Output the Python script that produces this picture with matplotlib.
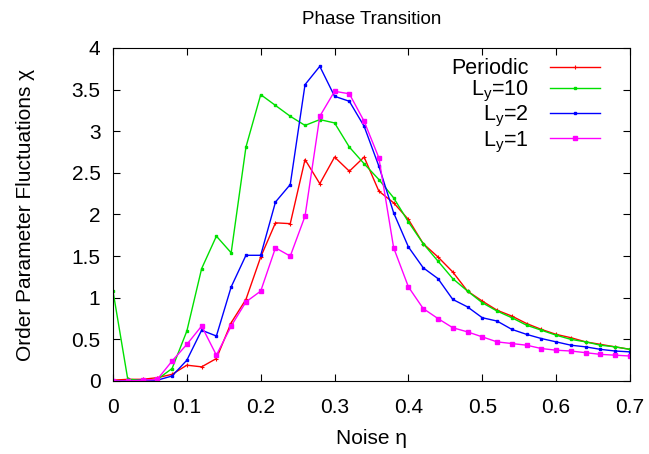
import numpy as np
import matplotlib
matplotlib.use('Agg')
import matplotlib.pyplot as plt

plt.rcParams['font.family'] = ['Liberation Sans', 'DejaVu Sans']
plt.rcParams['mathtext.fontset'] = 'custom'
plt.rcParams['mathtext.rm'] = 'Liberation Sans'
plt.rcParams['mathtext.it'] = 'Liberation Sans'

# noise values, step 0.02 from 0 to 0.7
eta = np.round(np.arange(0, 0.7001, 0.02), 2)

periodic = [0.01, 0.02, 0.02, 0.04, 0.08, 0.19, 0.17, 0.27, 0.70, 0.98,
            1.49, 1.90, 1.89, 2.66, 2.37, 2.69, 2.52, 2.69, 2.28, 2.14,
            1.94, 1.65, 1.49, 1.31, 1.08, 0.96, 0.85, 0.78, 0.69, 0.62,
            0.56, 0.52, 0.47, 0.44, 0.41, 0.38]
ly10 = [1.08, 0.02, 0.01, 0.02, 0.15, 0.60, 1.35, 1.74, 1.54, 2.81,
        3.44, 3.31, 3.18, 3.07, 3.14, 3.10, 2.81, 2.61, 2.42, 2.20,
        1.91, 1.65, 1.44, 1.23, 1.08, 0.94, 0.84, 0.76, 0.67, 0.61,
        0.55, 0.50, 0.47, 0.43, 0.41, 0.38]
ly2 = [0.00, 0.00, 0.01, 0.01, 0.06, 0.25, 0.61, 0.54, 1.13, 1.51,
       1.51, 2.15, 2.36, 3.56, 3.78, 3.42, 3.36, 3.06, 2.58, 2.02,
       1.61, 1.36, 1.23, 0.98, 0.89, 0.76, 0.72, 0.62, 0.56, 0.51,
       0.47, 0.43, 0.41, 0.38, 0.36, 0.35]
ly1 = [0.00, 0.00, 0.01, 0.02, 0.24, 0.44, 0.66, 0.31, 0.66, 0.95,
       1.08, 1.60, 1.50, 1.98, 3.18, 3.48, 3.45, 3.12, 2.68, 1.60,
       1.13, 0.87, 0.75, 0.64, 0.59, 0.53, 0.47, 0.45, 0.43, 0.39,
       0.37, 0.36, 0.34, 0.32, 0.31, 0.30]

fig = plt.figure(figsize=(6.49, 4.54), dpi=100)
ax = fig.add_axes([113/649, 1 - 381/454, (630-113)/649, (381-48)/454])

ax.plot(eta, periodic, color='#ff0000', lw=1, marker='+', ms=2.5, mew=0.8, label='Periodic')
ax.plot(eta, ly10, color='#00e000', lw=1, marker='s', ms=1.6, label='L$_y$=10')
ax.plot(eta, ly2, color='#0000ff', lw=1, marker='s', ms=2.0, label='L$_y$=2')
ax.plot(eta, ly1, color='#ff00ff', lw=1, marker='s', ms=3.0, label='L$_y$=1')

ax.set_xlim(0, 0.7)
ax.set_ylim(0, 4)
ax.set_xticks(np.arange(0, 0.71, 0.1))
ax.set_xticklabels(['0', '0.1', '0.2', '0.3', '0.4', '0.5', '0.6', '0.7'])
ax.set_yticks(np.arange(0, 4.01, 0.5))
ax.set_yticklabels(['0', '0.5', '1', '1.5', '2', '2.5', '3', '3.5', '4'])
ax.tick_params(direction='in', top=True, right=True, length=5, labelsize=15)
ax.tick_params(axis='x', pad=12)
ax.tick_params(axis='y', pad=9)

ax.set_title('Phase Transition', fontsize=13.5, pad=17)
ax.set_xlabel('Noise η', fontsize=15, labelpad=9)
ax.set_ylabel('Order Parameter Fluctuations χ', fontsize=15, labelpad=26)

leg = ax.legend(loc='upper right', frameon=False, markerfirst=False, fontsize=15.5,
                handlelength=2.3, handletextpad=1.0, labelspacing=0.0,
                borderaxespad=0.0, bbox_to_anchor=(0.958, 0.995))

fig.savefig('out.png', dpi=100)
